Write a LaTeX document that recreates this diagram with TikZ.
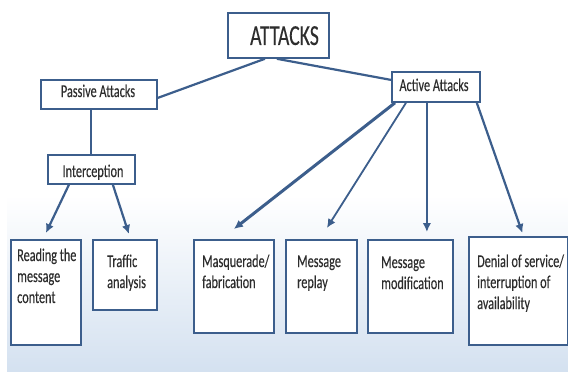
\documentclass[tikz,border=0pt]{standalone}
\usepackage{fontspec}
\setmainfont[FakeStretch=0.68,FakeBold=0.25]{Carlito}
\usetikzlibrary{arrows.meta,calc}
\definecolor{edge}{RGB}{60,94,140}
\definecolor{ink}{RGB}{45,45,45}
\definecolor{pale}{RGB}{212,225,240}
% stacked lines whose reference point is the first baseline
\newcommand\linestack[1]{\begin{tabular}[t]{@{}l@{}}#1\end{tabular}}

\begin{document}
\begin{tikzpicture}[x=1pt,y=-1pt,
  box/.style={draw=edge,line width=1.8pt,fill=white,inner sep=0pt,anchor=north west},
  head/.style={text=ink,font=\fontsize{18}{21}\selectfont,inner sep=0pt,anchor=base},
  lbl/.style={text=ink,font=\fontsize{18}{21}\selectfont,inner sep=0pt,anchor=base west},
  conn/.style={draw=edge,line width=2.2pt},
  arr/.style={conn,-{Latex[length=9pt,width=8.5pt]}}]

\useasboundingbox (0,0) rectangle (568,372);
% page background: white fading to pale blue towards the bottom
\fill[white] (0,0) rectangle (568,372);
\fill[top color=white,bottom color=pale] (7,195) rectangle (568,372);

% boxes
\node[box,minimum width=101pt,minimum height=45pt] (attacks) at (227,12) {};
\node[box,minimum width=116pt,minimum height=29pt] (passive) at (40,79) {};
\node[box,minimum width=88pt,minimum height=30pt] (active) at (391,71) {};
\node[box,minimum width=87pt,minimum height=29pt] (intercept) at (47,154) {};
\node[box,minimum width=70pt,minimum height=105pt] (read) at (10,239) {};
\node[box,minimum width=64pt,minimum height=70pt] (traffic) at (92,239) {};
\node[box,minimum width=80pt,minimum height=93pt] (masq) at (193,239) {};
\node[box,minimum width=71pt,minimum height=93pt] (replay) at (285,239) {};
\node[box,minimum width=85pt,minimum height=93pt] (modif) at (367,239) {};
\node[box,minimum width=99pt,minimum height=108pt] (denial) at (468,236) {};

% box texts
\node[head,font=\fontsize{29}{32}\selectfont] (attacksT) at (284.5,45) {ATTACKS};
\node[head] (passiveT) at (98,97) {Passive Attacks};
\node[head] (activeT) at (434,91) {Active Attacks};
\node[head] (interceptT) at (93,177) {Interception};
\node[lbl] (readT) at (17,261) {\linestack{Reading the\\message\\content}};
\node[lbl] (trafficT) at (107,267) {\linestack{Traffic\\analysis}};
\node[lbl] (masqT) at (202,267) {\linestack{Masquerade/\\fabrication}};
\node[lbl] (replayT) at (297,267) {\linestack{Message\\replay}};
\node[lbl] (modifT) at (381,268) {\linestack{Message\\modification}};
\node[lbl] (denialT) at (477,267) {\linestack{Denial of service/\\interruption of\\availability}};

% connectors
\draw[conn] ([xshift=-13.5pt]attacks.south) -- ([yshift=-3.5pt]passive.east);
\draw[conn] ([xshift=-1.5pt]attacks.south) -- ([yshift=7pt]active.west);
\draw[conn] ([xshift=-0.5pt]intercept.north) -- ([xshift=-0.5pt]intercept.north |- passive.south);
\draw[arr] ([xshift=-22.5pt]intercept.south) -- ([yshift=6pt]read.north);
\draw[arr] ([xshift=21.5pt]intercept.south) -- ([xshift=4pt,yshift=5pt]traffic.north);
\draw[arr,line width=3pt] ([xshift=4pt]active.south west) -- ([yshift=10pt]masq.north);
\draw[arr,line width=1.8pt] ([xshift=15pt]active.south west) -- ([xshift=5.5pt,yshift=11pt]replay.north);
\draw[arr] ([xshift=-9pt]active.south) -- ([xshift=16.5pt,yshift=7pt]modif.north);
\draw[arr] ([xshift=-4pt]active.south east) -- ([xshift=4pt,yshift=3pt]denial.north);
\end{tikzpicture}
\end{document}
